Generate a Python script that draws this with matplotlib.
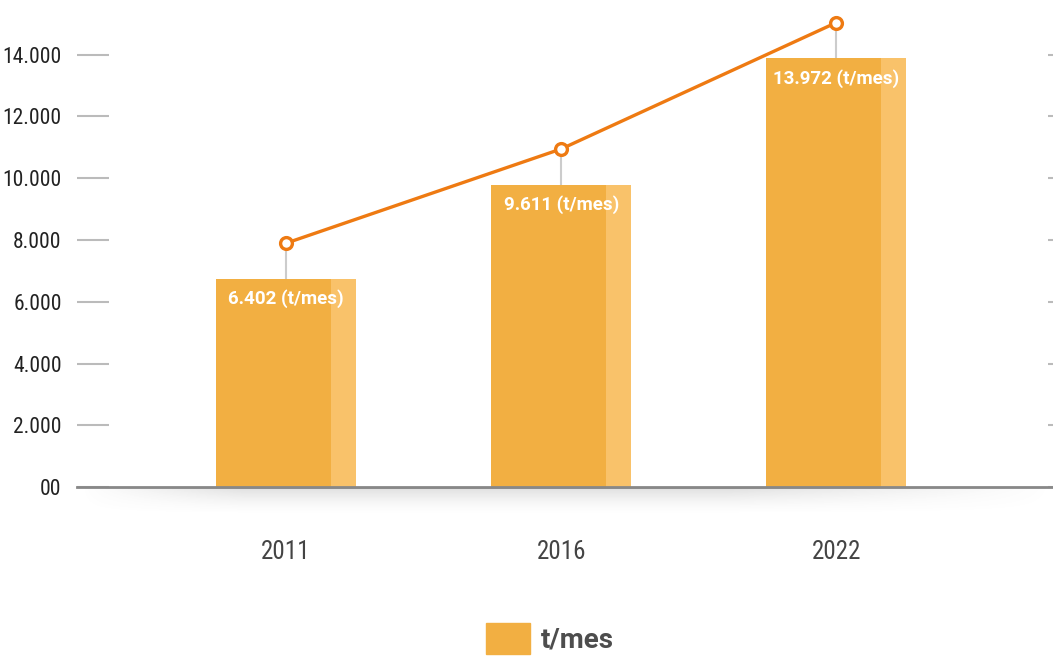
import matplotlib.pyplot as plt
import numpy as np
from matplotlib.patches import Patch

years = ["2011", "2016", "2022"]
bar_heights = [6740, 9780, 13880]
bar_labels = ["6.402 (t/mes)", "9.611 (t/mes)", "13.972 (t/mes)"]
line_values = [7900, 10950, 15040]
y_ticks = [0, 2000, 4000, 6000, 8000, 10000, 12000, 14000]
y_tick_labels = ["00", "2.000", "4.000", "6.000", "8.000", "10.000", "12.000", "14.000"]

cond = ["Roboto Condensed", "Liberation Sans Narrow", "DejaVu Sans"]
bold = ["Roboto", "DejaVu Sans"]

fig = plt.figure(figsize=(10.53, 6.57), dpi=100)
ax = fig.add_axes([77/1053, 169.7/657, (1053-77)/1053, 487.3/657])

x = np.arange(len(years))
bw = 0.509
strip = 0.091
ax.bar(x, bar_heights, width=bw, color="#F2AF42", zorder=2)
ax.bar(x + bw/2 - strip, bar_heights, width=strip, align="edge", color="#F9C26A", zorder=2)

# connector lines from bar top to marker
ax.vlines(x, bar_heights, line_values, color="#cccccc", lw=1.5, zorder=1)
ax.plot(x, line_values, color="#EE7A12", lw=2.4, marker="o", ms=8.5,
        mfc="white", mec="#EE7A12", mew=2.4, zorder=4, clip_on=False)

for xi, h, lab in zip(x, bar_heights, bar_labels):
    ax.annotate(lab, (xi, h), xytext=(0, -20), textcoords="offset pixels",
                ha="center", va="center", color="white", fontsize=13.5,
                fontweight="bold", family=bold, zorder=5)

ax.set_xlim(-0.7595, 2.787)
ax.set_ylim(0, 15770)
ax.set_yticks(y_ticks)
ax.set_yticklabels(y_tick_labels, family=cond, fontsize=15.5, color="#222222")
ax.tick_params(axis="y", direction="in", length=23, width=1.5, color="#bbbbbb",
               pad=11, right=True)
ax.set_xticks(x)
ax.set_xticklabels(years, family=cond, fontsize=18, color="#444444")
ax.tick_params(axis="x", length=0, pad=38)

for s in ["top", "right", "left"]:
    ax.spines[s].set_visible(False)
ax.spines["bottom"].set_color("#888888")
ax.spines["bottom"].set_linewidth(2)
ax.spines["bottom"].set_zorder(3)

# right-side short ticks
for t in ax.yaxis.get_major_ticks():
    t.tick2line.set_markersize(3.6)

# soft shadow under the baseline
sh = fig.add_axes([80/1053, (657-515)/657, (1053-80)/1053, 27/657])
sh.axis("off")
vy = np.linspace(1, 0, 40) ** 1.6
hx = np.clip(np.linspace(0, 1, 300) * 6, 0, 1) * np.clip((1 - np.linspace(0, 1, 300)) * 3, 0, 1)
alpha = 0.22 * np.outer(vy, hx)
img = np.zeros((40, 300, 4))
img[..., :3] = 0.45
img[..., 3] = alpha
sh.imshow(img, aspect="auto", interpolation="bilinear")

fig.legend(handles=[Patch(color="#F2AF42")], labels=["t/mes"], loc="lower center",
           bbox_to_anchor=(0.522, -0.033), frameon=False, handlelength=1.58,
           handleheight=1.3, handletextpad=0.4,
           prop={"family": bold, "weight": "bold", "size": 20}, labelcolor="#4d4d4d")

fig.savefig("out.png", dpi=100)
